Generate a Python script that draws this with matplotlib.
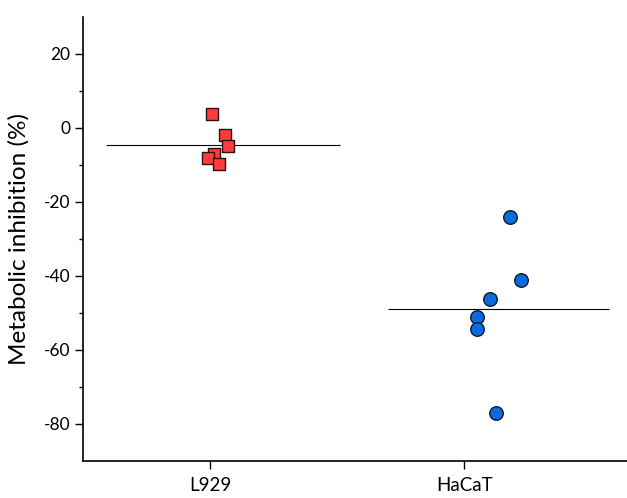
import numpy as np
import matplotlib.pyplot as plt

plt.rcParams['font.family'] = ['Lato', 'DejaVu Sans']
plt.rcParams['axes.unicode_minus'] = False

categories = ["L929", "HaCaT"]

# values
l929_vals = [3.8, -1.9, -4.9, -7.0, -8.1, -9.7]
l929_jitter = [0.008, 0.059, 0.071, 0.016, -0.008, 0.035]
hacat_vals = [-24.1, -41.1, -46.2, -51.1, -54.3, -77.0]
hacat_jitter = [0.181, 0.224, 0.102, 0.051, 0.051, 0.126]

fig = plt.figure(figsize=(6.27, 4.98), dpi=100)
ax = fig.add_axes([0.1324, 0.0743, 0.8676, 0.8916])

ax.scatter(1 + np.array(l929_jitter), l929_vals, marker="s", s=75,
           color="#FF3B3B", edgecolor="#2a1010", linewidth=1.0, zorder=3)
ax.scatter(2 + np.array(hacat_jitter), hacat_vals, marker="o", s=95,
           color="#0A6BDE", edgecolor="#101a2a", linewidth=1.0, zorder=3)

# mean lines
ax.hlines(np.mean(l929_vals), 0.59, 1.51, color="black", linewidth=0.8, zorder=2)
ax.hlines(np.mean(hacat_vals), 1.70, 2.57, color="black", linewidth=0.8, zorder=2)

ax.set_xlim(0.5, 2.64)
ax.set_ylim(-90, 30)
ax.set_xticks([1, 2])
ax.set_xticklabels(categories, fontsize=13.5)
ax.set_yticks([20, 0, -20, -40, -60, -80])
ax.set_yticks([10, -10, -30, -50, -70], minor=True)
ax.tick_params(axis="y", labelsize=12.5, direction="out", length=5.5, width=1)
ax.tick_params(axis="y", which="minor", length=3, width=1)
ax.tick_params(axis="x", direction="out", length=5.5, width=1, pad=6)
ax.set_ylabel("Metabolic inhibition (%)", fontsize=17.5, labelpad=10)

ax.spines["top"].set_visible(False)
ax.spines["right"].set_visible(False)
ax.spines["left"].set_linewidth(1.2)
ax.spines["bottom"].set_linewidth(1.2)

fig.savefig("out.png", dpi=100)
